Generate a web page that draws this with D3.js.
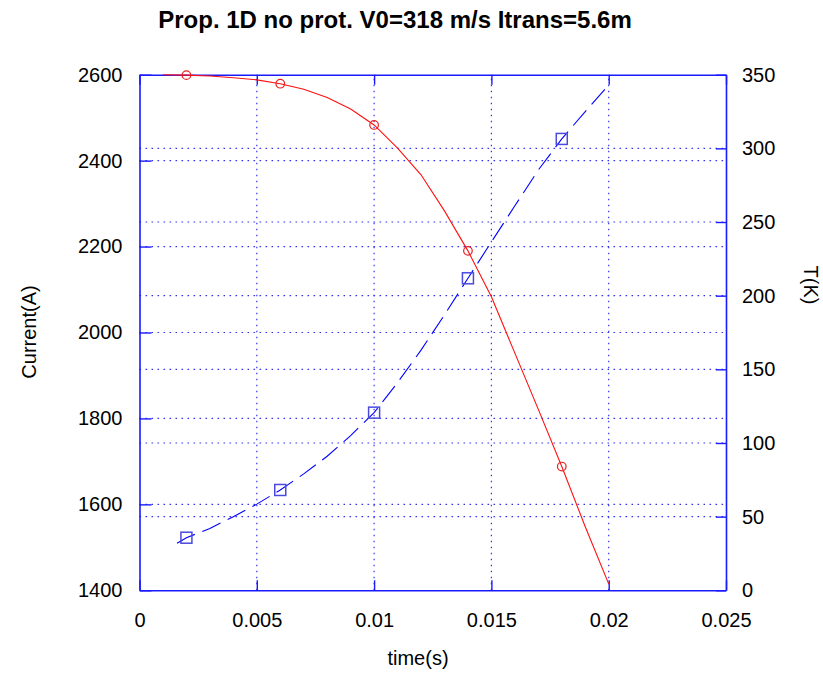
<!DOCTYPE html>
<html><head><meta charset="utf-8">
<script src="https://cdn.jsdelivr.net/npm/d3@7"></script>
<style>body{margin:0;background:#fff}svg{display:block}text{font-family:"Liberation Sans",Arial,sans-serif}</style>
</head><body>
<svg id="c" width="823" height="674"></svg>
<script>
// Current (A), red, sampled every 1 ms
const timeI = [0.001,0.002,0.003,0.004,0.005,0.006,0.007,0.008,0.009,0.010,0.011,0.012,0.013,0.014,0.015,0.016,0.017,0.018,0.019,0.020];
const current = [2600,2599,2597,2593,2588,2579,2566,2547,2520,2483,2429,2367,2283,2190,2083,1952,1821,1688,1548,1415];
// Temperature (K), blue dashed
const timeT = [0.0016,0.002,0.003,0.004,0.005,0.006,0.007,0.008,0.009,0.010,0.011,0.012,0.013,0.014,0.015,0.016,0.017,0.018,0.019,0.020];
const temperature = [31.9,35.7,42,50,58.5,68.1,79,91,105,120.6,141,163,187,211.8,236.5,261,285.3,306.4,325,343];
// marker times
const markTimes = [0.002,0.006,0.010,0.014,0.018];
const xTicks = [0,0.005,0.01,0.015,0.02,0.025];
const xTickLabels = ["0","0.005","0.01","0.015","0.02","0.025"];
const yLTicks = [1400,1600,1800,2000,2200,2400,2600];
const yRTicks = [0,50,100,150,200,250,300,350];

const svg = d3.select("#c");
const L=139.5, R=726, T=74.7, B=590.3;
const x = d3.scaleLinear().domain([0,0.025]).range([L,R]);
const yL = d3.scaleLinear().domain([1400,2600]).range([B,T]);
const yR = d3.scaleLinear().domain([0,350]).range([B,T]);
const blue="#1a1aff", grid="#3535f0";
const fs=20;

// grid
const g = svg.append("g").attr("stroke",grid).attr("stroke-width",1.2).attr("stroke-dasharray","1.6,4.4");
xTicks.slice(1,-1).forEach(v=>g.append("line").attr("x1",x(v)).attr("x2",x(v)).attr("y1",B).attr("y2",T));
yLTicks.slice(1,-1).forEach(v=>g.append("line").attr("x1",L).attr("x2",R).attr("y1",yL(v)).attr("y2",yL(v)));
yRTicks.slice(1,-1).forEach(v=>g.append("line").attr("x1",L).attr("x2",R).attr("y1",yR(v)).attr("y2",yR(v)));

// axes via d3 axis generators
const ax = svg.append("g");
const axB = ax.append("g").attr("transform",`translate(0,${B})`)
  .call(d3.axisBottom(x).tickValues(xTicks).tickFormat((d,i)=>xTickLabels[i]).tickSizeInner(-10).tickSizeOuter(0).tickPadding(23));
const axT = ax.append("g").attr("transform",`translate(0,${T})`)
  .call(d3.axisTop(x).tickValues(xTicks).tickFormat("").tickSizeInner(-10).tickSizeOuter(0));
const axL = ax.append("g").attr("transform",`translate(${L},0)`)
  .call(d3.axisLeft(yL).tickValues(yLTicks).tickFormat(d3.format("d")).tickSizeInner(-12).tickSizeOuter(0).tickPadding(17));
const axR = ax.append("g").attr("transform",`translate(${R},0)`)
  .call(d3.axisRight(yR).tickValues(yRTicks).tickFormat(d3.format("d")).tickSizeInner(-10).tickSizeOuter(0).tickPadding(16));
ax.selectAll(".domain").attr("stroke",blue).attr("stroke-width",1.6);
ax.selectAll(".tick line").attr("stroke",blue).attr("stroke-width",1.4);
ax.selectAll(".tick text").attr("fill","#000").attr("font-size",fs).attr("font-family","Liberation Sans, Arial, sans-serif");

// red current line
const lineI = d3.line().x((d,i)=>x(timeI[i])).y(d=>yL(d));
svg.append("path").datum(current).attr("d",lineI).attr("fill","none").attr("stroke","#ff1010").attr("stroke-width",1.1);
// blue temperature dashed
const lineT = d3.line().x((d,i)=>x(timeT[i])).y(d=>yR(d));
svg.append("path").datum(temperature).attr("d",lineT).attr("fill","none").attr("stroke","#0000ff").attr("stroke-width",1.1).attr("stroke-dasharray","20,8");

// markers
markTimes.forEach(t=>{
  const i = timeI.indexOf(t);
  svg.append("circle").attr("cx",x(t)).attr("cy",yL(current[i])).attr("r",4.3)
    .attr("fill","none").attr("stroke","#e82020").attr("stroke-width",1.2);
  const j = timeT.indexOf(t);
  svg.append("rect").attr("x",x(t)-5.5).attr("y",yR(temperature[j])-5.5).attr("width",11).attr("height",11)
    .attr("fill","none").attr("stroke","#4a4ae0").attr("stroke-width",1.5);
});

// labels
svg.append("text").attr("x",395).attr("y",28).attr("text-anchor","middle").attr("font-size",24).attr("font-weight","bold").text("Prop. 1D no prot. V0=318 m/s Itrans=5.6m");
svg.append("text").attr("x",418).attr("y",665).attr("text-anchor","middle").attr("font-size",fs).text("time(s)");
svg.append("text").attr("transform","translate(36,332) rotate(-90)").attr("text-anchor","middle").attr("font-size",fs).text("Current(A)");
svg.append("text").attr("transform","translate(804,285) rotate(90)").attr("text-anchor","middle").attr("font-size",fs).text("T(K)");
</script>
</body></html>
